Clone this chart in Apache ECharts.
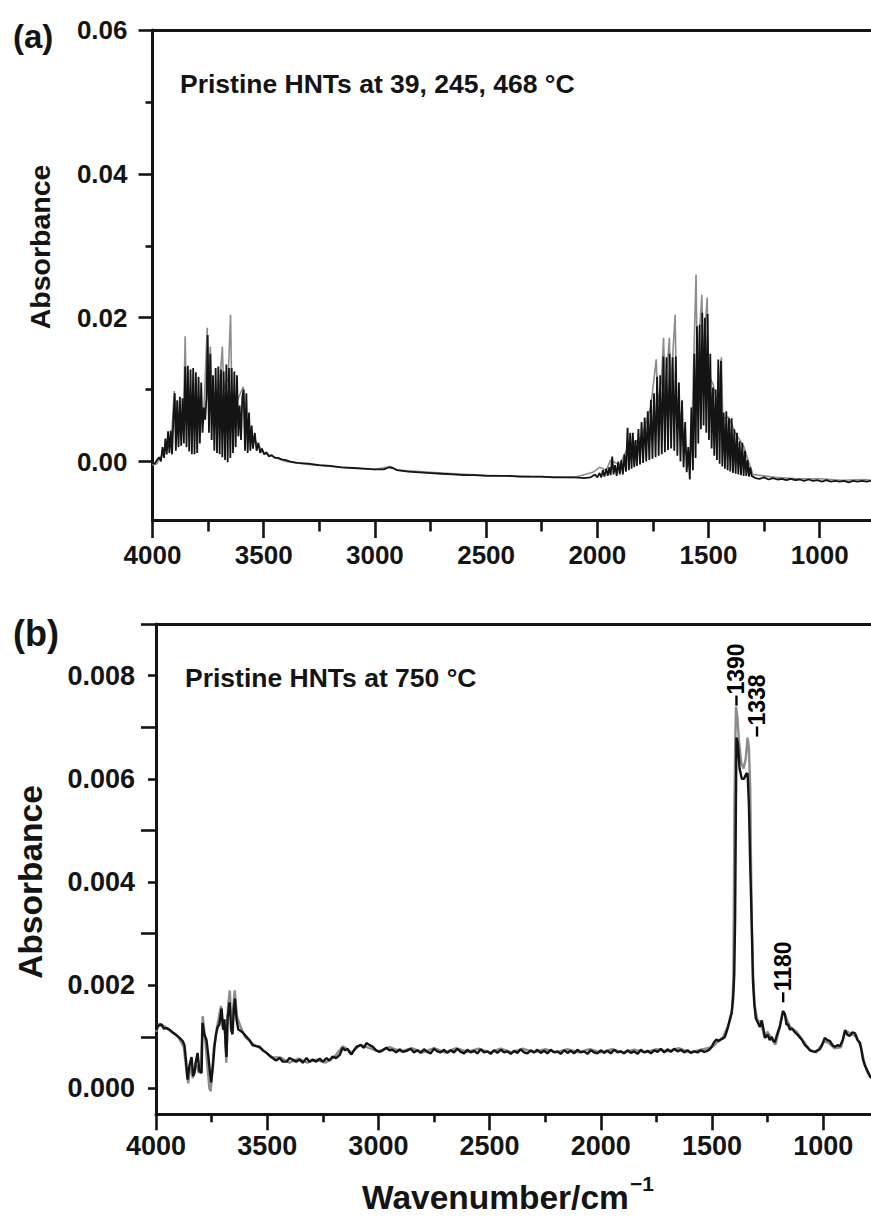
<!DOCTYPE html>
<html><head><meta charset="utf-8">
<script src="https://cdn.jsdelivr.net/npm/echarts@6/dist/echarts.min.js"></script>
<style>html,body{margin:0;padding:0;background:#fff}#c{width:871px;height:1222px}</style>
</head><body><div id="c"></div>
<script>
const FONT = "'Liberation Sans', Arial, Helvetica, sans-serif";
const INK = '#141414';

// ---------- tick values / labels ----------
const xRangeA = [500, 4000];
const xRangeB = [500, 4000];
const xLabelValues = [4000, 3500, 3000, 2500, 2000, 1500, 1000];
const yRangeA = [-0.0082, 0.06];
const yRangeB = [-0.0005, 0.009];
const yTicksA = [0, 0.02, 0.04, 0.06];
const yMinorA = [0.01, 0.03, 0.05];
const yTicksB = [0, 0.002, 0.004, 0.006, 0.008];
const yMinorB = [0.001, 0.003, 0.005, 0.007, 0.009];

// ---------- texts ----------
const panelALetter = '(a)';
const panelBLetter = '(b)';
const noteA = 'Pristine HNTs at 39, 245, 468 °C';
const noteB = 'Pristine HNTs at 750 °C';
const yTitle = 'Absorbance';
const xTitle = 'Wavenumber/cm';
const xTitleSup = '\u22121';

// ---------- panel (a) spectra: [wavenumber, absorbance] ----------
const specA_black = [
[4000,-0.0002],[3990,-0.0003],[3980,0.0002],[3970,0.0006],[3962,0.0000],[3955,0.0020],[3948,0.0005],[3942,0.0032],[3936,0.0010],[3930,0.0042],[3924,0.0012],[3918,0.0043],[3912,0.0010],[3906,0.0060],[3900,0.0095],[3895,0.0015],[3889,0.0085],[3883,0.0020],[3877,0.0090],[3871,0.0022],[3865,0.0088],[3859,0.0025],[3853,0.0132],[3847,0.0020],[3841,0.0133],[3835,0.0014],[3829,0.0128],[3823,0.0010],[3817,0.0130],[3811,0.0010],[3805,0.0124],[3799,0.0012],[3793,0.0118],[3787,0.0025],[3781,0.0110],[3775,0.0040],[3769,0.0075],[3763,0.0058],[3757,0.0090],[3752,0.0176],[3746,0.0040],[3740,0.0150],[3734,0.0030],[3728,0.0120],[3722,0.0015],[3716,0.0130],[3710,0.0012],[3704,0.0132],[3698,0.0010],[3692,0.0128],[3686,0.0006],[3680,0.0125],[3674,0.0002],[3668,0.0135],[3662,-0.0001],[3656,0.0130],[3650,0.0005],[3644,0.0130],[3638,0.0012],[3632,0.0125],[3626,0.0020],[3620,0.0120],[3614,0.0035],[3608,0.0078],[3602,0.0030],[3596,0.0090],[3590,0.0100],[3584,0.0015],[3578,0.0095],[3572,0.0012],[3566,0.0068],[3560,0.0015],[3554,0.0050],[3548,0.0018],[3540,0.0040],[3532,0.0015],[3524,0.0026],[3516,0.0012],[3508,0.0018],[3498,0.0010],[3488,0.0013],[3476,0.0007],[3464,0.0009],[3450,0.0005],[3436,0.0005],[3420,0.0003],[3400,0.0002],
[3380,0.0000],[3350,-0.0002],[3300,-0.0003],[3250,-0.0005],[3200,-0.0006],[3150,-0.0008],[3100,-0.0009],[3050,-0.0010],[3000,-0.0011],[2960,-0.0011],[2935,-0.0008],[2920,-0.0009],[2900,-0.0012],[2850,-0.0014],[2800,-0.0015],[2750,-0.0016],[2700,-0.0017],[2650,-0.0018],[2600,-0.0019],[2550,-0.0019],[2500,-0.0020],[2450,-0.0020],[2400,-0.0020],[2350,-0.0021],[2300,-0.0021],[2250,-0.0021],[2200,-0.0022],[2150,-0.0022],[2100,-0.0022],[2060,-0.0023],[2030,-0.0022],[2010,-0.0018],[2000,-0.0022],[1990,-0.0016],[1982,-0.0022],[1975,-0.0012],[1968,-0.0021],[1960,-0.0010],[1953,-0.0020],[1946,-0.0008],[1940,-0.0019],[1933,0.0007],[1927,-0.0018],[1920,-0.0005],[1913,-0.0020],[1906,0.0000],[1899,-0.0018],[1892,0.0002],[1885,-0.0018],
[1878,0.0010],[1871,-0.0014],[1864,0.0047],[1858,-0.0012],[1852,0.0040],[1846,-0.0010],[1840,0.0040],[1834,-0.0008],[1828,0.0030],[1822,-0.0006],[1815,0.0045],[1808,-0.0004],[1801,0.0055],[1794,-0.0002],[1787,0.0061],[1780,0.0000],[1773,0.0070],[1766,0.0002],[1759,0.0086],[1752,0.0004],[1745,0.0095],[1738,0.0006],[1731,0.0118],[1724,0.0008],[1717,0.0120],[1710,0.0010],[1703,0.0146],[1696,0.0013],[1689,0.0145],[1682,0.0016],[1675,0.0150],[1668,0.0018],[1661,0.0145],[1654,0.0015],[1647,0.0146],[1640,0.0008],[1633,0.0110],[1626,0.0000],[1619,0.0085],[1612,-0.0008],[1605,0.0055],[1598,-0.0015],[1591,0.0020],[1584,-0.0025],[1577,0.0075],[1570,-0.0012],[1564,0.0150],[1558,0.0005],[1552,0.0188],[1546,0.0025],[1540,0.0190],[1534,0.0045],[1528,0.0207],[1522,0.0050],[1516,0.0200],[1510,0.0040],[1504,0.0205],[1498,0.0030],[1492,0.0150],[1486,0.0018],[1480,0.0103],[1474,0.0008],[1468,0.0100],[1462,0.0002],[1456,0.0142],[1450,-0.0003],[1444,0.0140],[1438,-0.0007],[1432,0.0068],[1426,-0.0010],[1420,0.0070],[1414,-0.0012],[1408,0.0060],[1402,-0.0014],[1396,0.0060],[1390,-0.0016],[1384,0.0045],[1378,-0.0017],[1372,0.0040],[1366,-0.0018],[1360,0.0028],[1354,-0.0019],[1348,0.0026],[1342,-0.0020],[1336,0.0015],[1330,-0.0020],[1324,0.0002],[1318,-0.0021],[1312,-0.0008],[1306,-0.0020],
[1300,-0.0021],[1290,-0.0023],[1270,-0.0024],[1250,-0.0022],[1230,-0.0025],[1210,-0.0023],[1190,-0.0025],[1170,-0.0024],[1150,-0.0026],[1130,-0.0024],[1110,-0.0026],[1090,-0.0025],[1070,-0.0027],[1050,-0.0025],[1030,-0.0027],[1010,-0.0026],[990,-0.0028],[970,-0.0026],[950,-0.0028],[930,-0.0027],[910,-0.0028],[890,-0.0027],[870,-0.0029],[850,-0.0027],[830,-0.0028],[810,-0.0027],[790,-0.0028],[770,-0.0027]
];
const specA_gray = [
[4000,-0.0005],[3980,-0.0003],[3960,0.0008],[3940,0.0020],[3915,0.0030],[3902,0.0098],[3896,0.0040],[3880,0.0060],[3860,0.0070],[3853,0.0174],[3848,0.0080],[3830,0.0090],[3810,0.0075],[3790,0.0090],[3770,0.0060],[3754,0.0186],[3748,0.0100],[3740,0.0160],[3733,0.0090],[3700,0.0100],[3686,0.0160],[3680,0.0100],[3660,0.0115],[3649,0.0204],[3644,0.0100],[3625,0.0080],[3592,0.0104],[3585,0.0040],[3560,0.0040],[3530,0.0025],[3500,0.0012],[3450,0.0006],[3400,0.0000],[3300,-0.0004],[3200,-0.0007],[3100,-0.0009],[3000,-0.0011],[2930,-0.0007],[2900,-0.0012],[2700,-0.0016],[2500,-0.0019],[2300,-0.0021],[2100,-0.0022],[2020,-0.0015],[1990,-0.0008],[1960,-0.0012],[1940,0.0002],[1900,-0.0005],[1870,0.0015],[1850,0.0020],[1800,0.0035],[1760,0.0075],[1735,0.0142],[1728,0.0080],[1712,0.0110],[1702,0.0172],[1695,0.0090],[1676,0.0172],[1670,0.0100],[1650,0.0204],[1644,0.0090],[1620,0.0055],[1600,0.0010],[1585,-0.0010],[1575,0.0040],[1556,0.0260],[1550,0.0120],[1540,0.0180],[1530,0.0232],[1524,0.0140],[1506,0.0228],[1500,0.0120],[1480,0.0108],[1460,0.0080],[1442,0.0145],[1436,0.0060],[1410,0.0062],[1380,0.0040],[1360,0.0030],[1340,0.0020],[1320,0.0000],[1300,-0.0018],[1200,-0.0022],[1100,-0.0024],[1000,-0.0024],[900,-0.0026],[800,-0.0025],[770,-0.0026]
];

// ---------- panel (b) spectra ----------
const specB_black = [
[4000,0.00113],[3990,0.00122],[3975,0.00124],[3965,0.00116],[3953,0.00117],[3940,0.00114],[3926,0.00109],[3910,0.00104],[3894,0.00098],[3880,0.00092],[3872,0.00084],[3865,0.00054],[3858,0.00017],[3850,0.00044],[3840,0.00061],[3833,0.00024],[3827,0.0003],[3820,0.00054],[3813,0.00069],[3805,0.00034],[3795,0.0003],[3791,0.00127],[3783,0.00105],[3773,0.00094],[3765,0.00064],[3758,0.00034],[3752,0.00012],[3744,0.00044],[3737,0.00081],[3730,0.00105],[3723,0.00119],[3715,0.00124],[3705,0.00155],[3698,0.00114],[3692,0.00134],[3687,0.00084],[3683,0.00061],[3678,0.00138],[3669,0.00167],[3662,0.00114],[3656,0.00105],[3650,0.00154],[3645,0.00174],[3638,0.00134],[3630,0.00114],[3624,0.00113],[3611,0.00109],[3593,0.001],[3580,0.00094],[3566,0.00084],[3550,0.00082],[3534,0.00081],[3520,0.00074],[3503,0.00069],[3490,0.00064],[3476,0.00059],[3460,0.00054],[3444,0.00059],[3430,0.00052],[3413,0.00052],[3400,0.00059],[3386,0.00056],[3370,0.00052],[3354,0.00056],[3340,0.0005],[3323,0.00059],[3310,0.00052],[3296,0.00056],[3280,0.00052],[3264,0.00058],[3250,0.00052],[3233,0.00059],[3220,0.00054],[3206,0.00062],[3190,0.00059],[3174,0.00065],[3161,0.00079],[3150,0.00074],[3139,0.00077],[3130,0.0007],[3121,0.00066],[3110,0.00074],[3098,0.00081],[3080,0.00084],[3065,0.00079],[3053,0.00088],[3040,0.00084],[3026,0.00081],[3010,0.00074],[2995,0.00071],[2980,0.00074],[2964,0.00079],[2950,0.00074],[2937,0.00075],[2920,0.0007],[2905,0.00076],[2890,0.00071],[2873,0.00073],[2855,0.00077],[2840,0.0007],[2825,0.00074],[2810,0.00069],[2795,0.00076],[2780,0.00071],[2765,0.00068],[2750,0.00077],[2735,0.00072],[2720,0.0007],[2705,0.00075],[2690,0.00069],[2675,0.00074],[2660,0.0007],[2645,0.00077],[2630,0.00071],[2615,0.00068],[2600,0.00075],[2585,0.0007],[2570,0.00073],[2555,0.00068],[2540,0.00076],[2525,0.0007],[2510,0.00072],[2495,0.00067],[2480,0.00074],[2465,0.00069],[2450,0.00075],[2435,0.0007],[2420,0.00072],[2405,0.00067],[2390,0.00073],[2375,0.00069],[2360,0.00076],[2345,0.0007],[2330,0.00068],[2315,0.00074],[2300,0.0007],[2285,0.00075],[2270,0.00069],[2255,0.00073],[2240,0.00068],[2225,0.00075],[2210,0.0007],[2195,0.00072],[2180,0.00067],[2165,0.00074],[2150,0.00069],[2135,0.00073],[2120,0.00068],[2105,0.00075],[2090,0.0007],[2075,0.00072],[2060,0.00067],[2045,0.00074],[2030,0.0007],[2015,0.00068],[2000,0.00074],[1985,0.00069],[1970,0.00073],[1955,0.00068],[1940,0.00075],[1925,0.0007],[1910,0.00072],[1895,0.00068],[1880,0.00074],[1865,0.00069],[1850,0.00072],[1835,0.00067],[1820,0.00075],[1805,0.0007],[1790,0.00073],[1775,0.00068],[1760,0.00074],[1745,0.00071],[1730,0.00077],[1715,0.0007],[1700,0.00076],[1685,0.00071],[1670,0.00077],[1655,0.00072],[1640,0.00075],[1625,0.0007],[1610,0.00074],[1595,0.00069],[1580,0.00072],[1565,0.0007],[1550,0.00074],[1535,0.00071],[1520,0.00073],[1510,0.00076],[1500,0.00082],[1490,0.0009],[1480,0.00095],[1470,0.00092],[1460,0.00095],[1450,0.00097],[1442,0.001],[1435,0.00109],[1428,0.00119],[1420,0.00134],[1412,0.00146],[1405,0.00174],[1400,0.0022],[1396,0.0033],[1393,0.0052],[1390,0.0068],[1384,0.0067],[1376,0.0062],[1366,0.006],[1356,0.006],[1346,0.0061],[1340,0.0061],[1334,0.0055],[1328,0.0043],[1322,0.0033],[1316,0.0021],[1310,0.00165],[1303,0.00136],[1295,0.00129],[1285,0.00119],[1276,0.00132],[1268,0.00114],[1262,0.00098],[1250,0.00104],[1240,0.00094],[1231,0.001],[1224,0.00092],[1217,0.0009],[1208,0.00104],[1200,0.00114],[1195,0.00119],[1188,0.00134],[1180,0.0015],[1172,0.00144],[1165,0.00124],[1158,0.00124],[1150,0.00114],[1140,0.00116],[1127,0.00109],[1115,0.00104],[1105,0.00099],[1095,0.00094],[1082,0.00084],[1070,0.00079],[1060,0.00074],[1048,0.00072],[1037,0.00071],[1025,0.00074],[1015,0.00076],[1005,0.00084],[993,0.00098],[982,0.00094],[970,0.00092],[958,0.00084],[947,0.00081],[936,0.00084],[925,0.00082],[912,0.00094],[902,0.00113],[891,0.00104],[880,0.00102],[868,0.00109],[857,0.00107],[846,0.00094],[835,0.00089],[828,0.00074],[821,0.00056],[812,0.00044],[803,0.00036],[795,0.00029],[789,0.00023],[784,0.0002]
];
const specB_gray = [
[4000,0.0011],[3985,0.00126],[3960,0.0012],[3930,0.0011],[3900,0.001],[3875,0.0008],[3862,0.0003],[3855,0.0001],[3845,0.0005],[3835,0.0002],[3822,0.0005],[3808,0.0003],[3798,0.0004],[3790,0.0014],[3780,0.001],[3768,0.0004],[3760,0.0],[3754,-0.00005],[3748,0.0003],[3740,0.0008],[3725,0.0012],[3708,0.0016],[3700,0.0012],[3690,0.0011],[3684,0.0005],[3676,0.0016],[3668,0.0019],[3660,0.0011],[3652,0.0016],[3646,0.0019],[3636,0.0014],[3620,0.0012],[3600,0.001],[3560,0.00085],[3520,0.00075],[3480,0.0006],[3440,0.0006],[3400,0.0005],[3360,0.00058],[3320,0.0005],[3280,0.00056],[3240,0.0005],[3200,0.0006],[3160,0.00082],[3120,0.0007],[3080,0.00085],[3040,0.00078],[3000,0.00072],[2950,0.0008],[2900,0.00072],[2850,0.00078],[2800,0.0007],[2750,0.00078],[2700,0.0007],[2650,0.00078],[2600,0.00071],[2550,0.00077],[2500,0.0007],[2450,0.00077],[2400,0.0007],[2350,0.00077],[2300,0.0007],[2250,0.00076],[2200,0.0007],[2150,0.00076],[2100,0.0007],[2050,0.00076],[2000,0.0007],[1950,0.00076],[1900,0.0007],[1850,0.00075],[1800,0.0007],[1750,0.00076],[1700,0.00072],[1650,0.00078],[1600,0.0007],[1550,0.00075],[1500,0.0008],[1450,0.001],[1420,0.0013],[1410,0.0015],[1404,0.0021],[1401,0.004],[1399,0.0055],[1395,0.0068],[1392,0.0074],[1386,0.0072],[1378,0.0067],[1368,0.0063],[1358,0.0062],[1348,0.0064],[1340,0.0068],[1334,0.0066],[1328,0.0058],[1325,0.0045],[1321,0.0032],[1315,0.0022],[1308,0.0016],[1295,0.0013],[1280,0.0013],[1265,0.001],[1250,0.0011],[1230,0.00095],[1215,0.00085],[1200,0.0011],[1182,0.0015],[1170,0.0014],[1150,0.0012],[1120,0.0011],[1090,0.00092],[1060,0.00075],[1030,0.0007],[1000,0.0009],[980,0.0009],[950,0.00078],[920,0.0008],[900,0.00112],[870,0.00105],[850,0.001],[830,0.0008],[815,0.0005],[800,0.0003],[784,0.0002]
];

// ---------- peak annotations (panel b) ----------
const peakWavenumbers = [1390, 1338, 1180];
const peakHeights = [0.0074, 0.0068, 0.00165];
const peakTexts = ['1390', '1338', '1180'];

// ---------- style helpers ----------
const PX_PER_CM = 0.2224;
const gridWidth = (xRangeA[1] - xRangeA[0]) * PX_PER_CM;

function bottomX(grid, range, tickLen, minorLen, fs, margin) {
  return {
    gridIndex: grid, type: 'value', min: range[0], max: range[1], interval: 500, inverse: true,
    position: 'bottom',
    axisLine: { show: true, onZero: false, lineStyle: { color: INK, width: 3 } },
    axisTick: { show: true, inside: false, length: tickLen, lineStyle: { color: INK, width: 2.6 } },
    minorTick: { show: true, splitNumber: 2, length: minorLen, lineStyle: { color: INK, width: 2.6 } },
    axisLabel: { show: true, customValues: xLabelValues, color: INK, fontSize: fs, fontWeight: 'bold',
      fontFamily: FONT, margin: margin, formatter: v => String(Math.round(v)) },
    splitLine: { show: false }, minorSplitLine: { show: false }
  };
}
function topX(grid, range) {
  return {
    gridIndex: grid, type: 'value', min: range[0], max: range[1], inverse: true, position: 'top',
    axisLine: { show: true, onZero: false, lineStyle: { color: INK, width: 3 } },
    axisTick: { show: false }, axisLabel: { show: false }, splitLine: { show: false }
  };
}
function mainY(grid, range, ticks, tickLen, fs, margin, digits) {
  return {
    gridIndex: grid, type: 'value', min: range[0], max: range[1], position: 'left',
    axisLine: { show: true, onZero: false, lineStyle: { color: INK, width: 3 } },
    axisTick: { show: true, length: tickLen, customValues: ticks, lineStyle: { color: INK, width: 2.6 } },
    axisLabel: { show: true, customValues: ticks, color: INK, fontSize: fs, fontWeight: 'bold',
      fontFamily: FONT, margin: margin, formatter: v => Number(v).toFixed(digits) },
    splitLine: { show: false }
  };
}
function minorY(grid, range, ticks, tickLen) {
  return {
    gridIndex: grid, type: 'value', min: range[0], max: range[1], position: 'left',
    axisLine: { show: false, onZero: false },
    axisTick: { show: true, length: tickLen, customValues: ticks, lineStyle: { color: INK, width: 2.6 } },
    axisLabel: { show: false }, splitLine: { show: false }
  };
}

function txt(text, x, y, size, opts) {
  opts = opts || {};
  return {
    type: 'text', x: x, y: y, rotation: opts.rot || 0, silent: true,
    style: { text: text, x: 0, y: 0, fill: INK, font: (opts.weight || 'bold') + ' ' + size + 'px ' + FONT,
      textAlign: opts.align || 'left', textVerticalAlign: 'middle' }
  };
}

const peakData = peakWavenumbers.map((w, i) => ({ value: [w, peakHeights[i]], name: peakTexts[i] }));
const peakDashShift = [[0, -6], [9, -6], [0, -6]];

const chart = echarts.init(document.getElementById('c'), null, { renderer: 'svg' });
chart.setOption({
  animation: false,
  backgroundColor: '#ffffff',
  grid: [
    { left: 152.5, top: 30, width: gridWidth, height: 490.5, containLabel: false, outerBoundsMode: 'none' },
    { left: 156, top: 624, width: gridWidth, height: 490.3, containLabel: false, outerBoundsMode: 'none' }
  ],
  xAxis: [
    bottomX(0, xRangeA, 17.5, 11, 26, 21),
    topX(0, xRangeA),
    bottomX(1, xRangeB, 16, 8, 27, 18),
    topX(1, xRangeB)
  ],
  yAxis: [
    mainY(0, yRangeA, yTicksA, 14, 26, 25, 2),
    minorY(0, yRangeA, yMinorA, 7),
    mainY(1, yRangeB, yTicksB, 8, 27, 21, 3),
    minorY(1, yRangeB, yMinorB, 15)
  ],
  series: [
    { type: 'line', xAxisIndex: 0, yAxisIndex: 0, data: specA_gray, showSymbol: false, symbol: 'none', silent: true,
      lineStyle: { color: '#8c8c8c', width: 1.6 }, z: 2 },
    { type: 'line', xAxisIndex: 0, yAxisIndex: 0, data: specA_black, showSymbol: false, symbol: 'none', silent: true,
      lineStyle: { color: INK, width: 1.8 }, z: 3 },
    { type: 'line', xAxisIndex: 2, yAxisIndex: 2, data: specB_gray, showSymbol: false, symbol: 'none', silent: true,
      lineStyle: { color: '#8c8c8c', width: 2.4 }, z: 2 },
    { type: 'line', xAxisIndex: 2, yAxisIndex: 2, data: specB_black, showSymbol: false, symbol: 'none', silent: true,
      lineStyle: { color: INK, width: 2.4 }, z: 3 },
    { type: 'scatter', xAxisIndex: 2, yAxisIndex: 2, silent: true, z: 4,
      data: peakData.map((d, i) => Object.assign({}, d, { symbolOffset: peakDashShift[i] })),
      symbol: 'rect', symbolSize: [2.4, 10],
      itemStyle: { color: '#000', opacity: 1 },
      label: { show: true, formatter: '{b}', position: 'top', distance: 1, rotate: 90, opacity: 1,
        align: 'left', verticalAlign: 'middle', color: '#000', textBorderWidth: 0,
        fontSize: 23, fontWeight: 'bold', fontFamily: FONT } }
  ],
  graphic: [
    txt(panelALetter, 13, 36.5, 33),
    txt(panelBLetter, 13, 633.5, 36),
    txt(noteA, 180, 84, 26.5),
    txt(noteB, 185, 678, 26.5),
    txt(yTitle, 40, 247, 28.5, { rot: Math.PI / 2, align: 'center' }),
    txt(yTitle, 30, 882, 33.5, { rot: Math.PI / 2, align: 'center' }),
    txt(xTitle, 362, 1197, 33.5),
    txt(xTitleSup, 630, 1183, 21)
  ]
});
</script>
</body></html>
